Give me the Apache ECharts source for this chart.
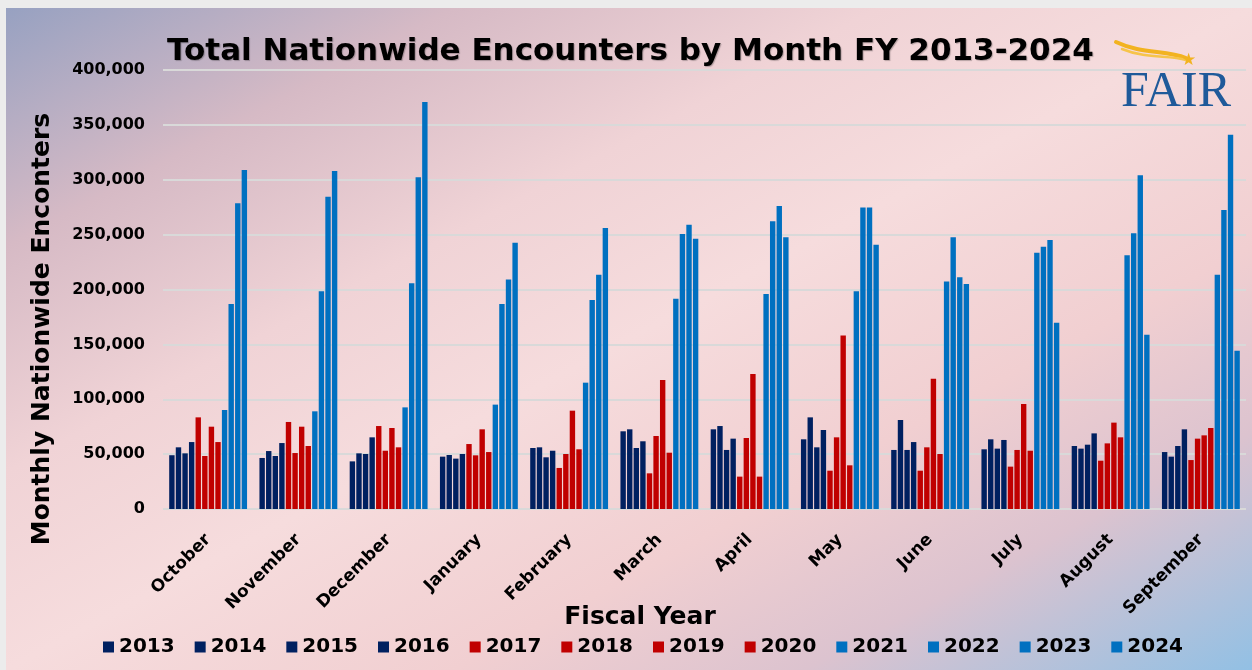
<!DOCTYPE html>
<html>
<head>
<meta charset="utf-8">
<script src="https://cdn.jsdelivr.net/npm/echarts@6/dist/echarts.min.js"></script>
<style>
  body { margin: 0; background: #ececec; }
  #chart {
    position: absolute; left: 6px; top: 8px; width: 1246px; height: 662px;
    background: linear-gradient(to bottom right, #97a1c1 0%, #d6bac5 18%, #f0d3d6 35%, #f6dcdd 50%, #f1cfd1 68%, #dcc3cf 82%, #92c0e4 100%);
  }
</style>
</head>
<body>
<div id="chart"></div>
<script>
  // months of the fiscal year (Oct -> Sep)
  const months = ['October', 'November', 'December', 'January', 'February', 'March',
                  'April', 'May', 'June', 'July', 'August', 'September'];
  const years = ['2013', '2014', '2015', '2016', '2017', '2018',
                 '2019', '2020', '2021', '2022', '2023', '2024'];

  // monthly encounters per fiscal year
  const fy2013 = [49000, 46500, 43400, 47700, 55600, 70800, 72600, 63500, 53800, 54400, 57400, 51900];
  const fy2014 = [56200, 52800, 50700, 49200, 56200, 72600, 75600, 83500, 81100, 63500, 55000, 47700];
  const fy2015 = [50700, 48300, 50100, 45900, 47100, 55600, 53800, 56200, 53800, 55000, 58600, 57400];
  const fy2016 = [61000, 60100, 65300, 50100, 53100, 61700, 64100, 72000, 61000, 62900, 68900, 72600];
  const fy2017 = [83500, 79300, 75600, 59200, 37400, 32500, 29500, 34900, 34900, 38600, 44000, 44600];
  const fy2018 = [48300, 51000, 53100, 48900, 50100, 66500, 64700, 65300, 56200, 53800, 59800, 64100];
  const fy2019 = [75000, 75000, 73800, 72600, 89600, 117500, 123000, 158200, 118700, 95700, 78700, 67100];
  const fy2020 = [61000, 57400, 56200, 51900, 54400, 51300, 29500, 39800, 50100, 53100, 65300, 73800];
  const fy2021 = [90200, 89000, 92600, 95100, 115100, 191600, 195900, 198300, 207400, 233500, 231100, 213500];
  const fy2022 = [186800, 198300, 205600, 186800, 190400, 250600, 262100, 274800, 247500, 239000, 251200, 272400];
  const fy2023 = [278500, 284600, 302200, 209200, 213500, 259100, 276100, 274800, 211100, 245100, 304000, 341100];
  const fy2024 = [308900, 308000, 370800, 242700, 256000, 246300, 247500, 240800, 205000, 169800, 158800, 144300];

  const yearData = [fy2013, fy2014, fy2015, fy2016, fy2017, fy2018,
                    fy2019, fy2020, fy2021, fy2022, fy2023, fy2024];

  const NAVY = '#002060', RED = '#C00000', BLUE = '#0070C0';
  function colorFor(i) {
    if (i < 4) return NAVY;
    if (i < 8) return RED;
    return BLUE;
  }

  const FONT = 'DejaVu Sans';

  const series = years.map((y, i) => ({
    name: y,
    type: 'bar',
    data: yearData[i],
    barWidth: 5.4,
    barGap: '22%',
    itemStyle: { color: colorFor(i) }
  }));

  const chart = echarts.init(document.getElementById('chart'));
  chart.setOption({
    animation: false,
    backgroundColor: 'transparent',
    title: {
      text: 'Total Nationwide Encounters by Month FY 2013-2024',
      left: 156,
      top: 23,
      textStyle: {
        fontFamily: FONT,
        fontWeight: 900,
        fontSize: 31,
        color: '#000',
        textShadowColor: 'rgba(0,0,0,0.25)',
        textShadowBlur: 1,
        textShadowOffsetX: 1,
        textShadowOffsetY: 1
      }
    },
    legend: {
      data: years,
      left: 92,
      top: 624,
      itemWidth: 11,
      itemHeight: 11,
      itemGap: 20,
      icon: 'rect',
      textStyle: { fontFamily: FONT, fontWeight: 'bold', fontSize: 20, color: '#000' }
    },
    grid: { left: 157, right: 6, top: 62, bottom: 161 },
    xAxis: {
      type: 'category',
      data: months,
      axisLine: { show: false },
      axisTick: { show: false },
      axisLabel: {
        rotate: 45,
        margin: 28,
        interval: 0,
        fontFamily: FONT,
        fontWeight: 'bold',
        fontSize: 17,
        color: '#000'
      }
    },
    yAxis: {
      type: 'value',
      min: 0,
      max: 400000,
      interval: 50000,
      axisLabel: {
        margin: 18,
        fontFamily: FONT,
        fontWeight: 'bold',
        fontSize: 16,
        color: '#000',
        formatter: v => v.toLocaleString('en-US')
      },
      splitLine: { lineStyle: { color: '#d9d9d9', width: 2 } }
    },
    graphic: [
      {
        type: 'text',
        x: 36, y: 321,
        rotation: Math.PI / 2,
        style: {
          text: 'Monthly Nationwide Enconters',
          fontFamily: FONT, fontWeight: 'bold', fontSize: 25, fill: '#000',
          align: 'center', verticalAlign: 'middle'
        }
      },
      {
        type: 'text',
        x: 634, y: 609,
        style: {
          text: 'Fiscal Year',
          fontFamily: FONT, fontWeight: 'bold', fontSize: 25, fill: '#000',
          align: 'center', verticalAlign: 'middle'
        }
      },
      // FAIR logo
      {
        type: 'text',
        x: 1170, y: 85,
        style: {
          text: 'FAIR',
          fontFamily: 'Liberation Serif', fontSize: 50, fill: '#1F5A9A',
          align: 'center', verticalAlign: 'middle'
        }
      },
      {
        type: 'bezierCurve',
        shape: { x1: 1110, y1: 34, x2: 1180, y2: 50, cpx1: 1135, cpy1: 46, cpx2: 1160, cpy2: 42 },
        style: { stroke: '#F2B320', lineWidth: 4, fill: null, lineCap: 'round' }
      },
      {
        type: 'bezierCurve',
        shape: { x1: 1116, y1: 41, x2: 1180, y2: 52, cpx1: 1140, cpy1: 51, cpx2: 1162, cpy2: 47 },
        style: { stroke: '#F6C44A', lineWidth: 2.5, fill: null, lineCap: 'round' }
      },
      {
        type: 'text',
        x: 1182, y: 52,
        style: {
          text: '★', fontSize: 17, fill: '#F2B320',
          align: 'center', verticalAlign: 'middle'
        }
      }
    ],
    series: series
  });
</script>
</body>
</html>
